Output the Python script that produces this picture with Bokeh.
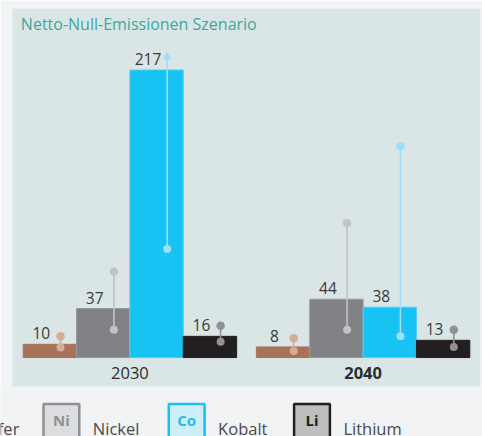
from bokeh.plotting import figure
from bokeh.models import FactorRange, ColumnDataSource, Range1d
from bokeh.transform import dodge
from bokeh.embed import file_html
from bokeh.resources import INLINE
from bokeh.core.properties import value

title_text = "Netto-Null-Emissionen Szenario"
years = ["2030", "2040"]
year_styles = ["normal", "bold"]
metals = ["Kupfer", "Nickel", "Kobalt", "Lithium"]
symbols = ["Cu", "Ni", "Co", "Li"]
values_2030 = [10, 37, 217, 16]
values_2040 = [8, 44, 38, 13]
low_2030 = [7.5, 21, 82, 12]
high_2030 = [16, 65, 227, 24]      # Kobalt: beyond the scale, drawn as an arrow
high_marker_2030 = ["circle", "circle", "triangle", "circle"]
low_2040 = [5, 21, 16, 8]
high_2040 = [14.5, 101.5, 159.5, 21]
high_marker_2040 = ["circle", "circle", "circle", "circle"]

bar_colors = ["#a9735a", "#808285", "#17c3f2", "#231f20"]
bar_lines = ["#a9735a", "#97989a", "#4fd0f5", "#231f20"]
dot_colors = ["#d6ac94", "#c3c3c5", "#a0ddf6", "#909195"]
sym_fill = ["#e3c7b8", "#dcdddf", "#cdeefb", "#bcbec0"]
sym_line = ["#a9735a", "#8f9093", "#1bbff0", "#231f20"]
sym_text = ["#a9735a", "#8f9093", "#1bbff0", "#231f20"]

PAGE = "#f1f3f4"
PANEL = "#dae6e6"
FONT = value("Open Sans")

factors = [(y, m) for y in years for m in metals]
vals = values_2030 + values_2040
src = ColumnDataSource(dict(
    x=factors,
    top=vals,
    label=[str(v) for v in vals],
    low=low_2030 + low_2040,
    high=high_2030 + high_2040,
    marker=high_marker_2030 + high_marker_2040,
    fill=bar_colors * 2,
    line=bar_lines * 2,
    dot=dot_colors * 2,
))

p = figure(
    x_range=FactorRange(*factors, factor_padding=0, group_padding=0.37,
                        range_padding=0.2, range_padding_units="absolute"),
    y_range=Range1d(-22.6, 263.4),
    width=482, height=387,
    min_border_left=12, min_border_right=2, min_border_top=8, min_border_bottom=0,
    x_axis_location=None, y_axis_location=None,
    toolbar_location=None, output_backend="svg",
    background_fill_color=PANEL, border_fill_color=PAGE,
    outline_line_color=None,
    styles={"position": "absolute", "left": "0px", "top": "0px"},
)
p.grid.visible = False

p.vbar(x="x", top="top", bottom=0, width=1.0, source=src,
       fill_color="fill", line_color="line", line_width=1)

dx = dodge("x", 0.2, range=p.x_range)
p.segment(x0=dx, y0="low", x1=dx, y1="high", source=src,
          line_color="dot", line_width=1.6)
p.scatter(x=dx, y="low", source=src, size=8, marker="circle",
          fill_color="dot", line_color=None)
p.scatter(x=dx, y="high", source=src, size=8.5, marker="marker",
          fill_color="dot", line_color=None)

p.text(x=dodge("x", -0.16, range=p.x_range), y="top", text="label", source=src,
       text_align="center", text_baseline="alphabetic", y_offset=-11,
       text_font=FONT, text_font_size="15.5px", text_color="#3a3a3c")

ysrc = ColumnDataSource(dict(x=years, y=[0, 0], t=years, st=year_styles))
p.text(x="x", y="y", text="t", source=ysrc, text_font_style="st",
       text_align="center", text_baseline="alphabetic", y_offset=15.5,
       text_font=FONT, text_font_size="16.5px", text_color="#2e2c2d")

tsrc = ColumnDataSource(dict(x=[factors[0]], y=[263.4], t=[title_text]))
p.text(x="x", y="y", text="t", source=tsrc, text_align="left",
       text_baseline="alphabetic", x_offset=-29, y_offset=15.5,
       text_font=FONT, text_font_size="16px", text_color="#3fa69c")

# legend strip, a separate root placed right under the chart
leg = figure(
    x_range=Range1d(0, 482), y_range=Range1d(0, 50),
    width=482, height=50,
    min_border=0, min_border_left=0, min_border_right=0,
    min_border_top=0, min_border_bottom=0,
    x_axis_location=None, y_axis_location=None,
    toolbar_location=None, output_backend="svg",
    background_fill_color=PAGE, border_fill_color=PAGE,
    outline_line_color=None,
    styles={"position": "absolute", "left": "0px", "top": "386px"},
)
leg.grid.visible = False
step = 125.3
lefts = [43 + (i - 1) * step for i in range(len(metals))]
lsrc = ColumnDataSource(dict(
    left=lefts, right=[l + 35.8 for l in lefts],
    cx=[l + 17.9 for l in lefts], tx=[l + 49.3 for l in lefts],
    sym=symbols, name=metals, fill=sym_fill, line=sym_line, tc=sym_text,
))
leg.quad(left="left", right="right", top=32.5, bottom=-10, source=lsrc,
         fill_color="fill", line_color="line", line_width=2.5)
leg.text(x="cx", y=17, text="sym", source=lsrc, text_align="center",
         text_baseline="alphabetic", text_font=FONT, text_font_size="15px",
         text_font_style="bold", text_color="tc")
leg.text(x="tx", y=8, text="name", source=lsrc, text_align="left",
         text_baseline="alphabetic", text_font=FONT, text_font_size="16.5px",
         text_color="#4a4a4c")

open("out.html", "w").write(file_html([p, leg], INLINE))
